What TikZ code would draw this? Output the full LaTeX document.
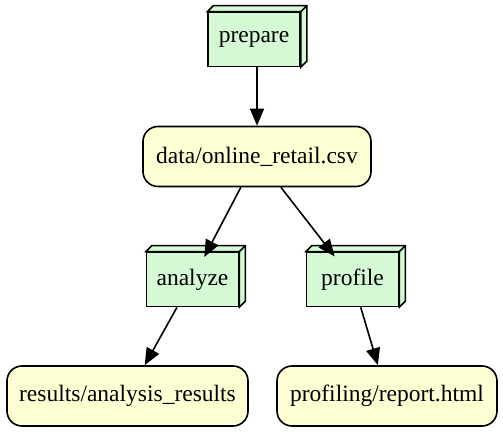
\documentclass[tikz,border=0pt]{standalone}
\usepackage{fontspec}
\setmainfont{Liberation Serif}
\usetikzlibrary{arrows.meta}
\definecolor{taskgreen}{HTML}{D5F9D5}
\definecolor{fileyellow}{HTML}{FFFFD4}
\tikzset{
	task/.style={draw,rectangle,fill=taskgreen,line width=1.6pt,minimum width=92pt,minimum height=54pt,inner sep=0pt,font=\fontsize{23.5}{28}\selectfont},
	file/.style={draw,rectangle,rounded corners=15pt,fill=fileyellow,line width=1.6pt,minimum height=60pt,inner sep=0pt,font=\fontsize{23.5}{28}\selectfont},
	flow/.style={-{Triangle[length=17pt,width=14pt]},line width=1.6pt},
}
\begin{document}
\begin{tikzpicture}[x=1pt,y=1pt]
				\useasboundingbox (0,0) rectangle (503,433);
				\node[name=prepare,task] at (254,393.5){prepare};
				\node[name=data,file,minimum width=228pt] at (257,276.5){data/online\_retail.csv};
				\node[name=analyze,task] at (192.5,153.5){analyze};
				\node[name=profile,task] at (352.5,153.5){profile};
				\node[name=results,file,minimum width=241pt] at (127.5,37){results/analysis\_results};
				\node[name=report,file,minimum width=220pt] at (387,37){profiling/report.html};
				\foreach \n in {prepare,analyze,profile}{
					\draw[fill=taskgreen,line width=1.6pt] (\n.north west) -- ([shift={(6,6)}]\n.north west) -- ([shift={(6,6)}]\n.north east) -- ([shift={(6,6)}]\n.south east) -- (\n.south east) -- (\n.north east) -- cycle;
					\draw[line width=1.6pt] (\n.north east) -- ([shift={(6,6)}]\n.north east);
				}
				\draw[flow] (prepare.south -| data.north) -- (data);
				\draw[flow,shorten >=-6pt] (data) -- (analyze);
				\draw[flow,shorten >=-6pt] (data) -- (profile);
				\draw[flow] (analyze) -- (results);
				\draw[flow] (profile) -- (report);
			\end{tikzpicture}
\end{document}
